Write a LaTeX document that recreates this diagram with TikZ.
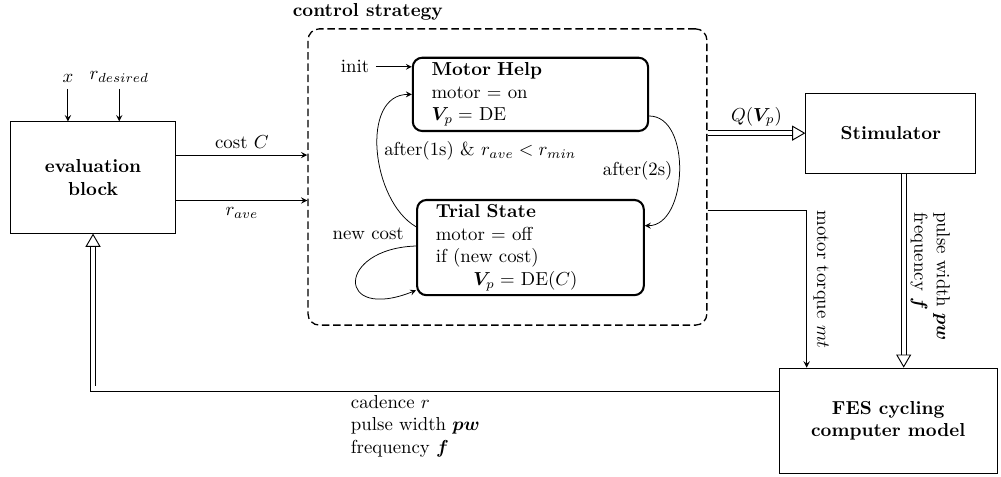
\documentclass[tikz,border=0pt]{standalone}
\usepackage{amsmath,bm}
\usetikzlibrary{arrows,arrows.meta,positioning}

\begin{document}
\begin{tikzpicture}[>=stealth, line width=0.5pt]
    \tikzstyle{block}=[draw, rectangle, font=\bfseries, align=center]
    \tikzstyle{state}=[draw, rectangle, rounded corners=5pt, line width=1.1pt, align=left, inner xsep=0.35cm, inner ysep=2pt]
    \tikzstyle{signal}=[double, double distance=2.2pt, -{Triangle[open, length=7pt, width=8pt]}]
    \tikzstyle{trans}=[->, line width=0.4pt]
    \useasboundingbox (0,0) rectangle (18.72,8.92);

    % Draw the blocks
    \node[block, minimum width=3.1cm, minimum height=2.08cm] (eval) at (1.74,5.60) {evaluation\\block};
    \node[block, minimum width=3.18cm, minimum height=1.5cm] (stim) at (16.66,6.43) {Stimulator};
    \node[block, minimum width=4.07cm, minimum height=1.97cm] (fes) at (16.61,1.05) {FES cycling\\computer model};

    % Inputs of the evaluation block
    \foreach \name/\txt/\xpos in {x/x/1.27, rd/r_{desired}/2.23} {
        \node[anchor=south] (\name) at (\xpos,7.26) {$\txt$};
        \draw[->] (\name) -- (\name |- eval.north);
    }

    % Draw the control strategy
    \node[draw, dashed, dash pattern=on 4pt off 2pt, rounded corners=6pt, line width=0.7pt,
          minimum width=7.46cm, minimum height=5.54cm] (ctrl) at (9.49,5.61) {};
    \node[font=\bfseries] (cs) at (6.88,8.70) {control strategy};

    \node[state, text width=3.7cm, minimum height=1.37cm] (mh) at (9.92,7.155)
        {\textbf{Motor Help}\\motor $=$ on\\$\bm{V}_p=$ DE};
    \node[state, text width=3.54cm, minimum height=1.78cm] (ts) at (9.92,4.29)
        {\textbf{Trial State}\\motor $=$ off\\if (new cost)\\\qquad$\bm{V}_p=$ DE$(C)$};

    \node (init) at (6.64,7.67) {init};
    \draw[trans] (init) -- (init -| mh.west);

    % Transitions between the states
    \draw[trans] ([yshift=-0.52cm]ts.north west) to[out=150, in=180]
        node[midway, right] {after(1s) \& $r_{ave}<r_{min}$} (mh.west);
    \draw[trans] ([yshift=0.3cm]mh.south east) to[out=0, in=0]
        node[midway, left] {after(2s)} ([yshift=-0.5cm]ts.north east);
    \draw[trans] ([yshift=-0.88cm]ts.north west) .. controls +(-1.5,-0.05) and +(-1.5,-0.6) ..
        node[pos=0, above left, xshift=-3pt] {new cost} ([yshift=0.11cm]ts.south west);

    % Signals between the blocks
    \draw[->] ([yshift=0.42cm]eval.east) -- node[above] {cost $C$} ([yshift=0.42cm]eval.east -| ctrl.west);
    \draw[->] ([yshift=-0.43cm]eval.east) -- node[below] {$r_{ave}$} ([yshift=-0.43cm]eval.east -| ctrl.west);
    \draw[signal] (stim.west -| ctrl.east) -- node[above] {$Q(\bm{V}_p)$} (stim.west);
    \draw[->] ([yshift=-0.62cm]ctrl.east) -| node[pos=0.72, sloped, above] {motor torque $mt$}
        ([xshift=0.52cm]fes.north west);
    \coordinate (pwf) at ([xshift=0.24cm]stim.south);
    \draw[signal] (pwf) -- node[pos=0.53, sloped, above, align=left] {pulse width $\bm{pw}$\\frequency $\bm{f}$}
        (pwf |- fes.north);
    \draw[signal] ([yshift=-0.39cm]fes.north west) -| node[pos=0.265, below, align=left]
        {cadence $r$\\pulse width $\bm{pw}$\\frequency $\bm{f}$} (eval.south);
\end{tikzpicture}
\end{document}
